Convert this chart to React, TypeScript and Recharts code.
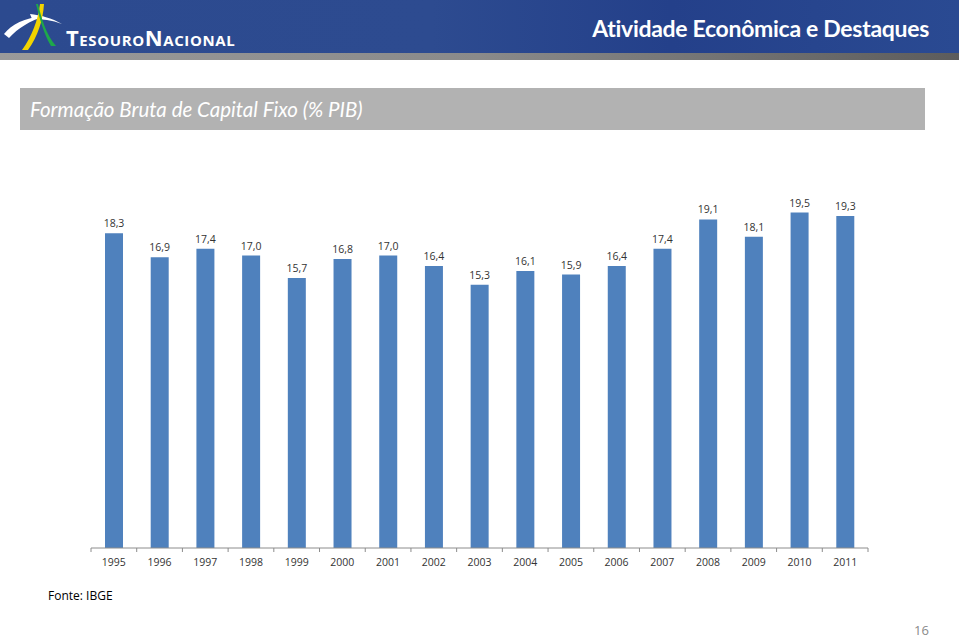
import { BarChart, Bar, XAxis, YAxis, LabelList } from 'recharts'

const years = ['1995', '1996', '1997', '1998', '1999', '2000', '2001', '2002', '2003', '2004', '2005', '2006', '2007', '2008', '2009', '2010', '2011']
const fbcf = [18.3, 16.9, 17.4, 17.0, 15.7, 16.8, 17.0, 16.4, 15.3, 16.1, 15.9, 16.4, 17.4, 19.1, 18.1, 19.5, 19.3]

const data = years.map((year, i) => ({ year, value: fbcf[i] }))

const CHART_W = 959
const CHART_H = 640
const AXIS_H = 30
const M = { top: 204, right: 91, bottom: 92 - AXIS_H, left: 91 }
const STEP = (CHART_W - M.left - M.right) / years.length

const font = 'Lato, "Open Sans", sans-serif'
const plain = '"Open Sans", sans-serif'

// Excel-style ticks: between categories, not under them
function YearTick(props: any) {
  const { x, y, payload, index } = props
  const left = x - STEP / 2
  return (
    <g>
      <line x1={left} y1={y - 8} x2={left} y2={y - 4} stroke="#8c8c8c" />
      {index === years.length - 1 && (
        <line x1={x + STEP / 2} y1={y - 8} x2={x + STEP / 2} y2={y - 4} stroke="#8c8c8c" />
      )}
      <text x={x} y={y + 10} textAnchor="middle" fontSize={10.5} fill="#333" fontFamily={plain}>
        {payload.value}
      </text>
    </g>
  )
}

function Logo() {
  return (
    <svg width={260} height={52} style={{ position: 'absolute', left: 0, top: 0 }}>
      <path d="M4 34 C12 24 24 18 44 16 C30 21 18 28 9 38 Z" fill="#fff" />
      <path d="M30 14 C40 15 52 18 62 24 C52 20 42 19 32 19 Z" fill="#fff" />
      <path d="M40 4 C38 20 32 36 22 50 L28 50 C38 36 43 20 44 4 Z" fill="#f2d400" />
      <path d="M38 4 C42 20 46 34 56 46 L51 46 C44 34 40 20 36 4 Z" fill="#1ea84a" />
      <text x={66} y={46} fill="#fff" fontFamily={plain} fontWeight={700} fontSize={22}
        style={{ fontVariant: 'small-caps' }} letterSpacing={0.6}>
        TesouroNacional
      </text>
    </svg>
  )
}

export default function App() {
  return (
    <div style={{ position: 'absolute', left: 0, top: 0, width: CHART_W, height: CHART_H, background: '#fff', overflow: 'hidden' }}>
      {/* banner */}
      <div style={{
        position: 'absolute', left: 0, top: 0, width: CHART_W, height: 53,
        background: 'linear-gradient(90deg, #2c4a8f 0%, #2d4b90 45%, #24408a 70%, #2a4a92 100%)',
      }} />
      <div style={{
        position: 'absolute', left: 0, top: 53, width: CHART_W, height: 7,
        background: 'linear-gradient(90deg, #9a9a9a 0%, #8a8a8a 50%, #5c5c5c 100%)',
      }} />
      <Logo />
      <div style={{
        position: 'absolute', right: 30, top: 14, color: '#fff', fontFamily: font,
        fontSize: 23, fontWeight: 700, letterSpacing: -0.3,
      }}>
        Atividade Econômica e Destaques
      </div>

      {/* title bar */}
      <div style={{
        position: 'absolute', left: 20, top: 88, width: 905, height: 42, background: '#b2b2b2',
        color: '#fff', fontFamily: font, fontStyle: 'italic', fontSize: 20.5,
        display: 'flex', alignItems: 'center', paddingLeft: 10, boxSizing: 'border-box',
      }}>
        Formação Bruta de Capital Fixo (% PIB)
      </div>

      <div style={{ position: 'absolute', left: 0, top: 0 }}>
        <BarChart width={CHART_W} height={CHART_H} data={data} margin={M} barCategoryGap={0}>
          <XAxis dataKey="year" axisLine={{ stroke: '#8c8c8c' }} tickLine={false}
            tick={<YearTick />} interval={0} height={AXIS_H} />
          <YAxis hide domain={[0, 20]} />
          <Bar dataKey="value" fill="#4f81bd" barSize={18} isAnimationActive={false}>
            <LabelList dataKey="value" position="top" offset={6}
              formatter={(v: any) => Number(v).toFixed(1).replace('.', ',')}
              style={{ fontSize: 10.5, fill: '#333', fontFamily: plain }} />
          </Bar>
        </BarChart>
      </div>

      <div style={{ position: 'absolute', left: 48, top: 587, fontFamily: plain, fontSize: 12, color: '#000' }}>
        Fonte: IBGE
      </div>
      <div style={{ position: 'absolute', left: 914, top: 622, fontFamily: plain, fontSize: 13, lineHeight: '16px', color: '#8a8a8a' }}>
        16
      </div>
    </div>
  )
}
